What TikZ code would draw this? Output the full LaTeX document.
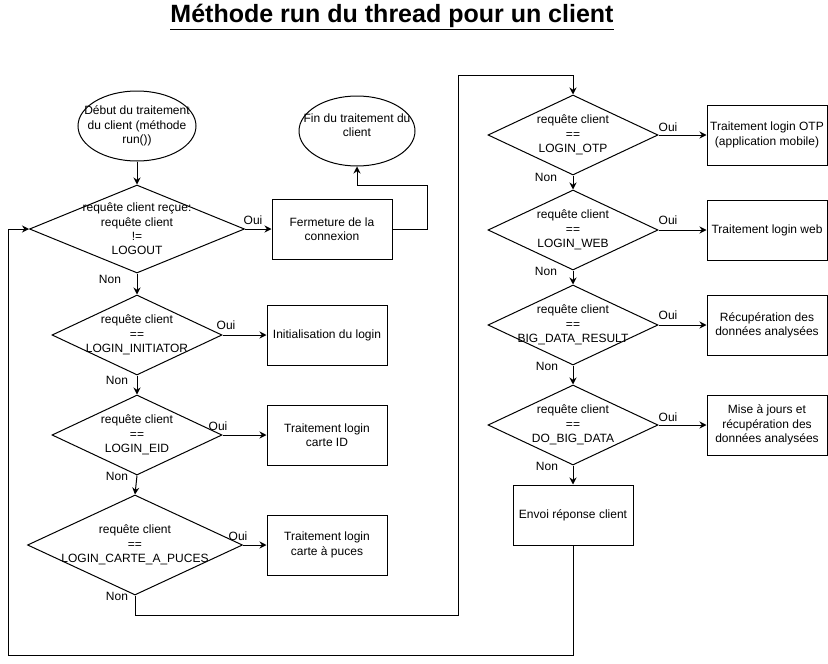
\documentclass[tikz,border=0pt]{standalone}
\usepackage{fontspec}
\setmainfont{Liberation Sans}
\usetikzlibrary{arrows.meta, shapes.geometric, positioning}

\begin{document}
\begin{tikzpicture}[x=1pt,y=-1pt,line width=1pt,
	every node/.style={font=\fontsize{12}{14.3}\selectfont,inner sep=0pt},
	lbl/.style={align=center,inner sep=0pt},
	cond/.style={draw,diamond,minimum width=170pt,minimum height=80pt},
	term/.style={draw,ellipse,minimum width=118pt,minimum height=70pt},
	proc/.style={draw,rectangle,align=center,minimum width=120pt,minimum height=60pt},
	>={Stealth[length=7pt,width=7pt]}]
	\useasboundingbox (0,0) rectangle (828,664);
	\node[font=\fontsize{25}{28}\selectfont\bfseries] (titre) at (392,17) {\underline{Méthode run du thread pour un client}};
	\node[term,label={[lbl]center:{Début du traitement\\du client (méthode\\run())}}] (debut) at (137,126) {};
	\node[term,minimum width=116pt,label={[lbl,yshift=6pt]center:{Fin du traitement du\\client}}] (fin) at (357,131) {};
	\node[cond,minimum width=215pt,minimum height=88pt,label={[lbl]center:{requête client reçue:\\requête client\\!=\\LOGOUT}}] (logout) at (137,229) {};
	\node[cond,label={[lbl]center:{requête client\\==\\LOGIN\_INITIATOR}}] (initiator) at (137,335) {};
	\node[cond,label={[lbl]center:{requête client\\==\\LOGIN\_EID}}] (eid) at (137,435) {};
	\node[cond,minimum width=215pt,minimum height=100pt,label={[lbl]center:{requête client\\==\\LOGIN\_CARTE\_A\_PUCES}}] (puces) at (135,545) {};
	\node[cond,label={[lbl]center:{requête client\\==\\LOGIN\_OTP}}] (otp) at (573,135) {};
	\node[cond,label={[lbl]center:{requête client\\==\\LOGIN\_WEB}}] (web) at (573,230) {};
	\node[cond,label={[lbl]center:{requête client\\==\\BIG\_DATA\_RESULT}}] (result) at (573,325) {};
	\node[cond,label={[lbl]center:{requête client\\==\\DO\_BIG\_DATA}}] (dobig) at (573,425) {};
	\node[proc] (fermeture) at (332,229) {Fermeture de la\\connexion};
	\node[proc] (tinit) at (327,335) {Initialisation du login};
	\node[proc] (teid) at (327,435) {Traitement login\\carte ID};
	\node[proc] (tpuces) at (327,545) {Traitement login\\carte à puces};
	\node[proc] (totp) at (767,135) {Traitement login OTP\\(application mobile)};
	\node[proc] (tweb) at (767,230) {Traitement login web};
	\node[proc] (tresult) at (767,325) {Récupération des\\données analysées};
	\node[proc] (tdobig) at (767,425) {Mise à jours et\\récupération des\\données analysées};
	\node[proc] (envoi) at (573,515) {Envoi réponse client};
	\coordinate (f1) at (427,185);
	\coordinate (p1) at (135,615);
	\coordinate (p2) at (458,75);
	\coordinate (e1) at (573,655);
	\coordinate (e2) at (8,229);
	\draw[->] (debut) -- (logout);
	\draw[->] (logout) -- (fermeture);
	\draw[->] (fermeture.east) -| (f1) -| (fin.south);
	\draw[->] (logout) -- (initiator);
	\draw[->] (initiator) -- (tinit);
	\draw[->] (initiator) -- (eid);
	\draw[->] (eid) -- (teid);
	\draw[->] (eid.south) -- (puces.north);
	\draw[->] (puces) -- (tpuces);
	\draw[->] (puces.south) -- (p1) -| (p2) -| (otp.north);
	\draw[->] (otp) -- (totp);
	\draw[->] (otp) -- (web);
	\draw[->] (web) -- (tweb);
	\draw[->] (web) -- (result);
	\draw[->] (result) -- (tresult);
	\draw[->] (result) -- (dobig);
	\draw[->] (dobig) -- (tdobig);
	\draw[->] (dobig) -- (envoi);
	\draw[->] (envoi.south) -- (e1) -| (e2) -- (logout.west);
	\node (oui1) at (253,220) {Oui};
	\node (non1) at (110,279) {Non};
	\node (oui2) at (226,325) {Oui};
	\node (non2) at (117,380) {Non};
	\node (oui3) at (218,426) {Oui};
	\node (non3) at (117,476) {Non};
	\node (oui4) at (238,536) {Oui};
	\node (non4) at (117,596) {Non};
	\node (oui5) at (668,127) {Oui};
	\node (non5) at (546,177) {Non};
	\node (oui6) at (668,220) {Oui};
	\node (non6) at (546,271) {Non};
	\node (oui7) at (668,315) {Oui};
	\node (non7) at (547,366) {Non};
	\node (oui8) at (668,417) {Oui};
	\node (non8) at (547,466) {Non};
\end{tikzpicture}
\end{document}
